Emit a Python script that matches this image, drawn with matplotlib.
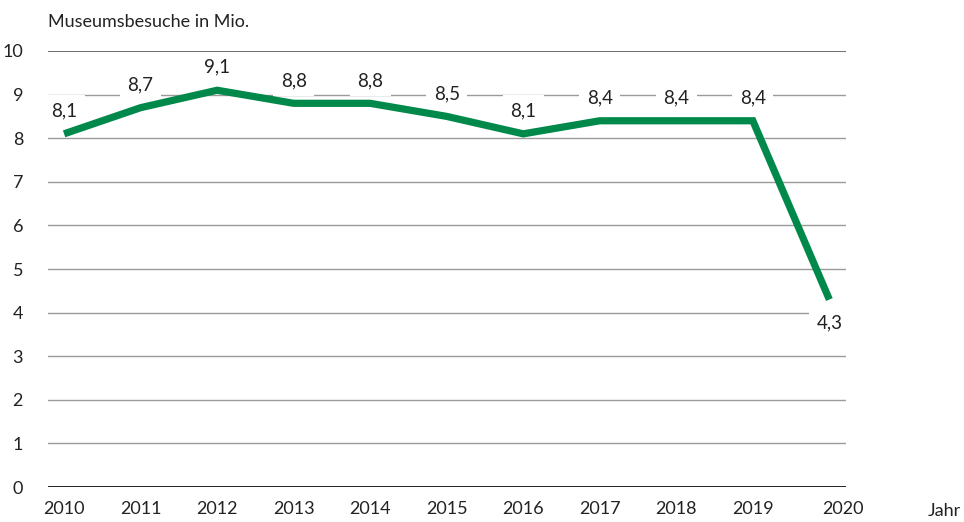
import matplotlib.pyplot as plt
import matplotlib.transforms as mtransforms

years = [2010, 2011, 2012, 2013, 2014, 2015, 2016, 2017, 2018, 2019, 2020]
visits = [8.1, 8.7, 9.1, 8.8, 8.8, 8.5, 8.1, 8.4, 8.4, 8.4, 4.3]
labels = ["8,1", "8,7", "9,1", "8,8", "8,8", "8,5", "8,1", "8,4", "8,4", "8,4", "4,3"]
yticks = list(range(0, 11))

GREEN = "#00894a"
TEXT = "#222222"

plt.rcParams['font.family'] = ['Lato', 'DejaVu Sans']


def main():
    fig = plt.figure(figsize=(9.64, 5.22), dpi=100)
    ax = fig.add_axes([0.0498, 0.067, 0.828, 0.8353])

    ax.set_xlim(2009.79, 2020.22)
    ax.set_ylim(0, 10)

    # horizontal grid lines (top and bottom lines stay above the label boxes)
    for y in yticks:
        if y == 0:
            c, lw, z = "black", 1.2, 2.5
        elif y == 10:
            c, lw, z = "#555555", 1.2, 2.5
        else:
            c, lw, z = "#9a9a9a", 1.0, 1
        ax.axhline(y, color=c, linewidth=lw, zorder=z)

    ax.plot(years, visits, color=GREEN, linewidth=5.2, solid_joinstyle='miter',
            solid_capstyle='butt', zorder=3)

    # value labels: white box hides the grid line, but sits under the curve
    for x, v, lab in zip(years, visits, labels):
        dy = -17 if x == 2020 else 16.5
        ax.annotate(lab, (x, v), xytext=(0, dy), textcoords="offset points",
                    ha="center", va="center", fontsize=13.5, color=TEXT, zorder=2,
                    bbox=dict(boxstyle="square,pad=0.4", fc="white", ec="none"))

    for s in ax.spines.values():
        s.set_visible(False)

    ax.set_yticks(yticks)
    ax.set_yticklabels([str(t) for t in yticks])
    ax.set_xticks(years)
    ax.set_xticklabels([str(y) for y in years])
    ax.tick_params(axis="both", length=0, labelsize=13, labelcolor=TEXT)
    ax.tick_params(axis="y", pad=18)
    ax.tick_params(axis="x", pad=10)

    # last year label sits a bit further right in the original
    lbl = ax.get_xticklabels()[-1]
    lbl.set_transform(lbl.get_transform() +
                      mtransforms.ScaledTranslation(14 / 100, 0, fig.dpi_scale_trans))

    fig.text(0.0498, 0.958, "Museumsbesuche in Mio.", fontsize=13, color=TEXT,
             ha="left", va="center")
    fig.text(0.962, 0.021, "Jahr", fontsize=13, color=TEXT, ha="left", va="center")

    fig.savefig("out.png", dpi=100)


if __name__ == "__main__":
    main()
